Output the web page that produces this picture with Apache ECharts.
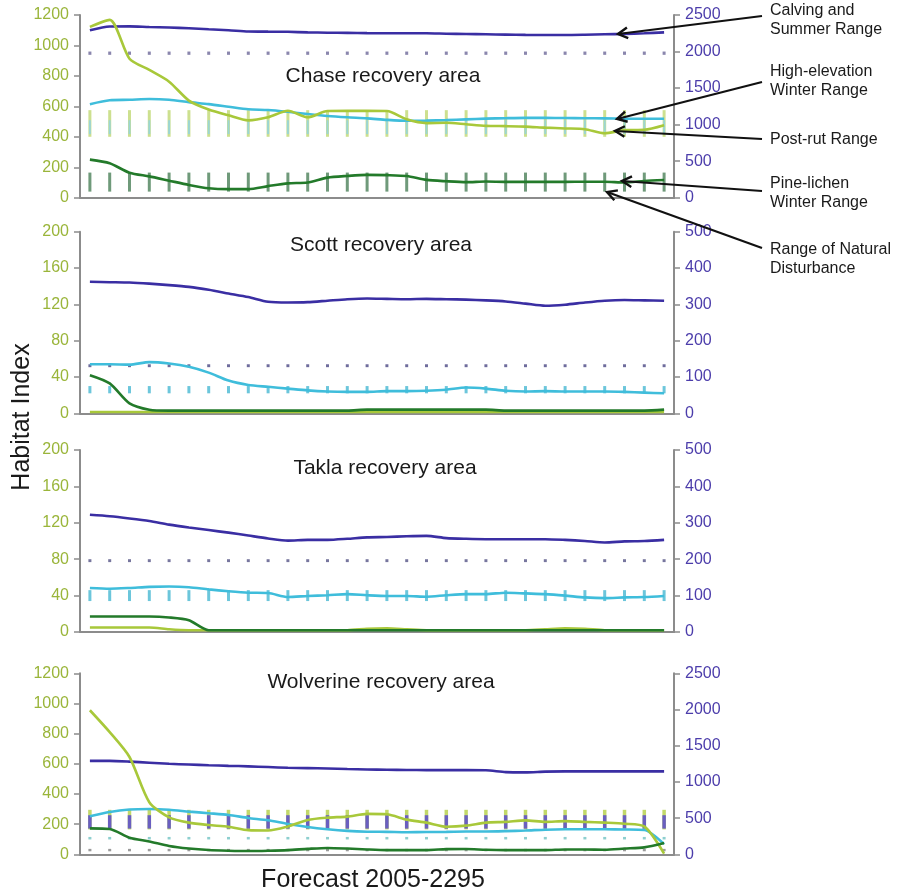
<!DOCTYPE html>
<html><head><meta charset="utf-8">
<script src="https://cdn.jsdelivr.net/npm/echarts@6/dist/echarts.min.js"></script>
<style>html,body{margin:0;padding:0;background:#fff}#c{width:898px;height:893px}</style>
</head><body><div id="c"></div>
<script>
// ---------- categories ----------
const years = ['2005','2015','2025','2035','2045','2055','2065','2075','2085','2095',
  '2105','2115','2125','2135','2145','2155','2165','2175','2185','2195',
  '2205','2215','2225','2235','2245','2255','2265','2275','2285','2295'];

const panelTitles = ['Chase recovery area','Scott recovery area','Takla recovery area','Wolverine recovery area'];

// ---------- axis scales / tick labels ----------
const leftMax   = [1200, 200, 200, 1200];
const leftStep  = [200, 40, 40, 200];
const rightMax  = [2500, 500, 500, 2500];
const rightStep = [500, 100, 100, 500];

// ---------- Chase ----------
const chaseCalving = [2290,2342,2345,2335,2328,2318,2305,2292,2275,2272,2270,2262,2258,2255,2252,2250,2250,2250,2244,2240,2236,2232,2228,2226,2226,2230,2236,2242,2250,2262];
const chaseHighElev = [1280,1334,1340,1350,1340,1308,1280,1245,1210,1200,1175,1145,1118,1100,1086,1065,1052,1055,1062,1072,1082,1088,1092,1092,1090,1088,1086,1082,1080,1080];
const chasePostRut = [1122,1168,913,839,762,638,579,541,508,528,571,528,569,570,570,569,515,490,492,482,472,470,467,460,455,450,423,444,446,476];
const chasePine = [250,226,164,140,112,84,62,56,56,76,94,100,132,143,150,148,142,117,108,102,106,104,104,104,104,105,105,100,110,116];

// ---------- Scott ----------
const scottCalving = [362,361,360,357,353,348,340,330,320,307,305,306,310,314,316,315,314,315,314,313,311,308,302,296,299,305,310,312,311,310];
const scottHighElev = [135,135,134,141,137,128,112,90,78,73,68,63,60,59,59,61,61,62,65,71,68,62,60,61,60,60,60,59,57,55];
const scottPostRut = [1.5,1.5,1.5,1.5,1.5,1.5,1.5,1.5,1.5,1.5,1.5,1.5,1.5,1.5,1.5,1.5,1.5,1.5,1.5,1.5,1.5,1.5,1.5,1.5,1.5,1.5,1.5,1.5,1.5,1.5];
const scottPine = [42,33,11,4,3,3,3,3,3,3,3,3,3,3,4,4,4,4,4,4,4,3,3,3,3,3,3,3,3,4];

// ---------- Takla ----------
const taklaCalving = [322,318,312,305,295,287,280,273,265,257,251,253,253,256,260,261,263,264,258,256,255,255,255,255,253,250,246,249,250,253];
const taklaHighElev = [121,119,121,124,125,123,117,112,108,107,96,99,101,104,101,99,99,97,101,104,104,108,106,104,100,95,93,95,96,99];
const taklaPostRut = [5,5,5,5,3,2,2,2,2,2,2,2,2,2,3.5,4,3,2,2,2,2,2,2,3,4,3.5,2,2,2,2];
const taklaPine = [17,17,17,17,16,13,2,2,2,2,2,2,2,2,2,2,2,2,2,2,2,2,2,2,2,2,2,2,2,2];

// ---------- Wolverine ----------
const wolvCalving = [1290,1290,1280,1265,1250,1240,1230,1222,1215,1205,1195,1190,1185,1178,1172,1168,1165,1163,1162,1162,1160,1135,1132,1142,1145,1145,1145,1145,1145,1145];
const wolvHighElev = [527,585,618,625,615,590,567,543,502,470,419,378,347,324,312,310,305,308,310,315,315,320,328,340,345,345,345,343,335,140];
const wolvPostRut = [955,810,645,345,245,210,194,183,160,158,185,228,243,250,268,265,230,210,183,190,210,215,225,215,220,215,210,203,185,5];
const wolvPine = [172,168,110,85,55,38,28,24,22,24,28,36,42,38,32,28,28,28,34,35,30,28,28,28,32,32,30,38,46,75];

// ---------- ranges of natural disturbance [low, high] ----------
const rangeCalving  = [[1955,2000],[127,135],[192,200],[355,540]];   // right axis
const rangeHighElev = [[870,1060],[55,75],[85,115],[205,240]];      // right axis
const rangePostRut  = [[400,575],null,null,[165,295]];              // left axis
const rangePine     = [[40,165],null,null,[20,36]];                 // left axis

// ---------- styling / layout ----------
const C = {
  calving:'#3a2ea3', high:'#3fbddb', post:'#a8c83a', pine:'#237a2a',
  leftLab:'#9ab53a', rightLab:'#4c3dab', axis:'#8c8c8c'
};
const gridTop = [15, 231.7, 450, 673.3];
const gridH   = [182.7, 181.6, 182, 181];
const FONT = '"Liberation Sans", Arial, Helvetica, sans-serif';

const panelData = [
  [chaseCalving, chaseHighElev, chasePostRut, chasePine],
  [scottCalving, scottHighElev, scottPostRut, scottPine],
  [taklaCalving, taklaHighElev, taklaPostRut, taklaPine],
  [wolvCalving, wolvHighElev, wolvPostRut, wolvPine]
];
const rangeStyle = [
  [{c:'#8a86ad',w:3},{c:'#8fd3e3',w:2,o:0.8},{c:'#bcd56a',w:3,o:0.75},{c:'#6f9a7a',w:3}],
  [{c:'#6e6c9c',w:3},{c:'#6cc6db',w:3},null,null],
  [{c:'#77769e',w:3},{c:'#6cc6db',w:3},null,null],
  [{c:'#6a5fc0',w:3.5},{c:'#8ecfcf',w:3},{c:'#c2d86a',w:3.5},{c:'#9a9a9a',w:3}]
];

const grids = [], xAxes = [], yAxes = [], series = [];
for (let p = 0; p < 4; p++) {
  grids.push({left: 80, right: 224, top: gridTop[p], height: gridH[p]});
  xAxes.push({
    type:'category', gridIndex:p, data: years, boundaryGap:true,
    axisLine:{show:true, onZero:false, lineStyle:{color:C.axis, width:2}},
    axisTick:{show:false}, axisLabel:{show:false}, splitLine:{show:false}
  });
  const mkY = (pos, max, step, col) => ({
    type:'value', gridIndex:p, position:pos, min:0, max:max, interval:step,
    axisLine:{show:true, lineStyle:{color:C.axis, width:2}},
    axisTick:{show:true, length:6, lineStyle:{color:C.axis, width:1.5}},
    axisLabel:{color:col, fontSize:16, fontFamily:FONT, margin:11, formatter: v => String(v)},
    splitLine:{show:false}
  });
  yAxes.push(mkY('left', leftMax[p], leftStep[p], C.leftLab));
  yAxes.push(mkY('right', rightMax[p], rightStep[p], C.rightLab));

  const L = p*2, R = p*2+1;
  const ranges = [[rangeCalving[p],R],[rangeHighElev[p],R],[rangePostRut[p],L],[rangePine[p],L]];
  [2,1,3,0].forEach(k => {
    const r = ranges[k][0], st = rangeStyle[p][k];
    if (!r || !st) return;
    series.push({
      type:'custom', xAxisIndex:p, yAxisIndex:ranges[k][1], silent:true, z:1,
      data: years.map((y,i) => [i, r[0], r[1]]),
      encode:{x:0, y:[1,2]},
      renderItem: (params, api) => {
        const a = api.coord([api.value(0), api.value(1)]);
        const b = api.coord([api.value(0), api.value(2)]);
        return {type:'line', shape:{x1:a[0], y1:a[1], x2:b[0], y2:b[1]},
          style:{stroke:st.c, lineWidth:st.w, opacity: st.o == null ? 1 : st.o}};
      }
    });
  });
  const d = panelData[p];
  const mkLine = (data, color, yi) => ({
    type:'line', xAxisIndex:p, yAxisIndex:yi, data, symbol:'none', smooth:0.25,
    lineStyle:{color, width:2.6}, itemStyle:{color}, silent:true, z:3
  });
  series.push(mkLine(d[0], C.calving, R));
  series.push(mkLine(d[1], C.high, R));
  series.push(mkLine(d[2], C.post, L));
  series.push(mkLine(d[3], C.pine, L));
}

// ---------- annotation graphics ----------
const graphic = [];
const titlePos = [[383,76],[381,245],[385,468],[381,682]];
panelTitles.forEach((t,i) => graphic.push({type:'text', x:titlePos[i][0], y:titlePos[i][1], silent:true,
  style:{text:t, font:'21px '+FONT, fill:'#1a1a1a', textAlign:'center', textVerticalAlign:'middle', align:'center', verticalAlign:'middle'}}));
graphic.push({type:'text', x:22, y:417, rotation:Math.PI/2, silent:true,
  style:{text:'Habitat Index', font:'25px '+FONT, fill:'#1a1a1a', textAlign:'center', textVerticalAlign:'middle', align:'center', verticalAlign:'middle'}});
graphic.push({type:'text', x:373, y:880, silent:true,
  style:{text:'Forecast 2005-2295', font:'25px '+FONT, fill:'#1a1a1a', textAlign:'center', textVerticalAlign:'middle', align:'center', verticalAlign:'middle'}});

const notes = [
  ['Calving and',10.7],['Summer Range',29.3],
  ['High-elevation',71.7],['Winter Range',90.7],
  ['Post-rut Range',140],
  ['Pine-lichen',183.3],['Winter Range',202.3],
  ['Range of Natural',250],['Disturbance',269]
];
notes.forEach(n => graphic.push({type:'text', x:770, y:n[1], silent:true,
  style:{text:n[0], font:'16px '+FONT, fill:'#1a1a1a', textAlign:'left', textVerticalAlign:'middle', align:'left', verticalAlign:'middle'}}));

const arrows = [[762,16,618,34],[762,82,617,119],[762,139,615,131],[762,191,622,181],[762,248,607,192]];
arrows.forEach(a => {
  const [x1,y1,x2,y2] = a;
  const ang = Math.atan2(y1-y2, x1-x2);
  const hl = 11, hw = 0.5;
  const h1 = [x2 + hl*Math.cos(ang+hw), y2 + hl*Math.sin(ang+hw)];
  const h2 = [x2 + hl*Math.cos(ang-hw), y2 + hl*Math.sin(ang-hw)];
  graphic.push({type:'polyline', silent:true, z:10, shape:{points:[[x1,y1],[x2,y2]]}, style:{stroke:'#111', lineWidth:2.2, fill:null}});
  graphic.push({type:'polyline', silent:true, z:10, shape:{points:[h1,[x2,y2],h2]}, style:{stroke:'#111', lineWidth:2.4, fill:null}});
});

const chart = echarts.init(document.getElementById('c'), null, {renderer:'canvas'});
chart.setOption({
  animation:false, backgroundColor:'#fff',
  grid: grids, xAxis: xAxes, yAxis: yAxes, series: series, graphic: graphic
});
</script></body></html>
